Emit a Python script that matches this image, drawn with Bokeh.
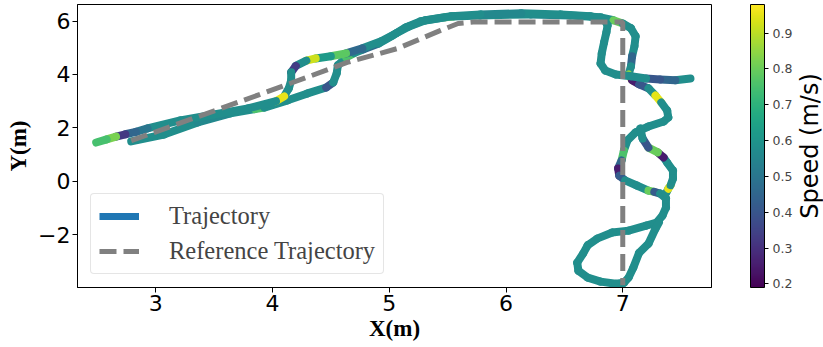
from bokeh.plotting import figure
from bokeh.layouts import row
from bokeh.models import (ColumnDataSource, Range1d, FixedTicker, ColorBar,
                          LinearColorMapper, Legend, LegendItem)
from bokeh.palettes import Viridis256
from bokeh.embed import file_html
from bokeh.resources import INLINE

# ---- data ----
# outbound pass (lower-left start -> top -> down the right -> bottom loop)
a_x = [2.79, 3.07, 3.36, 3.64, 3.85, 3.93, 4.13, 4.30, 4.46, 4.52, 4.55, 4.56, 4.63, 4.70, 4.78,
       4.91, 5.03, 5.14, 5.27, 5.48, 5.55, 5.78, 6.21, 6.55, 6.81, 6.92, 7.00, 7.07, 7.11, 7.10,
       7.08, 7.07, 7.05, 7.08, 7.14, 7.22, 7.28, 7.33, 7.38, 7.39, 7.35, 7.22, 7.11, 7.04, 7.01,
       6.99, 6.96, 6.97, 7.02, 7.12, 7.22, 7.27, 7.32, 7.37, 7.37, 7.34, 7.29, 7.20, 7.05, 6.91,
       6.78, 6.70, 6.66, 6.61, 6.62, 6.70, 6.81, 6.94, 7.01, 7.05, 7.09, 7.14, 7.22, 7.28, 7.31]
a_y = [1.49, 1.75, 2.20, 2.54, 2.70, 2.76, 3.03, 3.29, 3.51, 3.70, 4.04, 4.34, 4.64, 4.80, 4.94,
       5.16, 5.46, 5.76, 5.99, 6.14, 6.17, 6.21, 6.25, 6.21, 6.14, 6.03, 5.91, 5.73, 5.43, 5.05,
       4.68, 4.30, 4.00, 3.78, 3.63, 3.48, 3.21, 2.95, 2.65, 2.39, 2.24, 2.05, 1.83, 1.53, 1.15,
       0.78, 0.48, 0.21, 0.03, -0.16, -0.35, -0.40, -0.46, -0.65, -0.99, -1.29, -1.55, -1.66, -1.85, -1.92,
       -2.15, -2.40, -2.71, -3.05, -3.35, -3.61, -3.76, -3.84, -3.80, -3.61, -3.24, -2.68, -2.34, -1.78, -1.55]
a_speed = [0.58, 0.58, 0.56, 0.58, 0.76, 0.58, 0.58, 0.58, 0.40, 0.58, 0.58, 0.58, 0.76, 0.58, 0.46,
           0.58, 0.58, 0.58, 0.58, 0.80, 0.58, 0.58, 0.56, 0.58, 0.58, 0.80, 0.58, 0.58, 0.58, 0.58,
           0.45, 0.58, 0.85, 0.25, 0.40, 0.58, 0.95, 0.58, 0.58, 0.58, 0.58, 0.58, 0.58, 0.58, 0.76,
           0.45, 0.25, 0.42, 0.58, 0.58, 0.80, 0.42, 0.58, 0.58, 0.58, 0.58, 0.58, 0.58, 0.58, 0.58,
           0.58, 0.58, 0.58, 0.58, 0.58, 0.58, 0.58, 0.58, 0.58, 0.58, 0.58, 0.58, 0.58, 0.58, 0.58]

# return pass (right tip -> left wiggle -> top -> upper-left strand)
b_x = [7.58, 7.45, 7.32, 7.20, 7.07, 6.94, 6.85, 6.81, 6.82, 6.84, 6.86, 6.87, 6.84, 6.72,
       6.47, 6.13, 5.78, 5.53, 5.31, 5.17, 5.06, 4.93, 4.77, 4.63, 4.50, 4.37, 4.29, 4.20,
       4.16, 4.16, 4.14, 4.10, 4.03, 3.79, 3.50, 3.21, 2.93, 2.83, 2.74, 2.66, 2.58, 2.49]
b_y = [3.85, 3.78, 3.81, 3.85, 3.93, 4.00, 4.15, 4.41, 4.79, 5.20, 5.58, 5.84, 6.06, 6.18,
       6.25, 6.29, 6.25, 6.18, 6.03, 5.80, 5.54, 5.24, 4.98, 4.79, 4.68, 4.60, 4.52, 4.32,
       4.08, 3.78, 3.48, 3.18, 3.00, 2.73, 2.50, 2.28, 1.98, 1.85, 1.76, 1.67, 1.57, 1.45]
b_speed = [0.58, 0.45, 0.40, 0.58, 0.58, 0.58, 0.58, 0.58, 0.58, 0.58, 0.58, 0.58, 0.58, 0.58,
           0.58, 0.56, 0.58, 0.58, 0.58, 0.58, 0.58, 0.58, 0.46, 0.78, 0.62, 0.92, 0.58, 0.33,
           0.58, 0.58, 0.58, 0.95, 0.58, 0.58, 0.58, 0.58, 0.50, 0.45, 0.32, 0.82, 0.75, 0.58]

# connecting strand on the right side
c_x = [7.37, 7.39, 7.41, 7.43, 7.43, 7.38, 7.35, 7.30, 7.22, 7.17, 7.15]
c_y = [-0.46, -0.28, -0.15, 0.10, 0.40, 0.70, 0.89, 1.08, 1.26, 1.60, 1.98]
c_speed = [0.58, 0.95, 0.58, 0.58, 0.58, 0.58, 0.25, 0.80, 0.40, 0.58, 0.58]

# reference trajectory
ref_x = [2.79, 4.10, 4.64, 5.07, 5.44, 5.59, 5.72, 7.00, 7.00]
ref_y = [1.52, 3.58, 4.45, 4.97, 5.65, 5.91, 5.96, 5.96, -3.90]

x_ticks = [3, 4, 5, 6, 7]
y_ticks = [-2, 0, 2, 4, 6]
cb_ticks = [0.2, 0.3, 0.4, 0.5, 0.6, 0.7, 0.8, 0.9]
speed_low, speed_high = 0.19, 0.98

H = 347
TOP, BOTTOM = 4, 60

# ---- main figure (plot + colour bar) ----
p = figure(width=794, height=H, output_backend="svg", toolbar_location=None,
           x_range=Range1d(2.33, 7.76), y_range=Range1d(-3.98, 6.62),
           min_border_left=77, min_border_right=83, min_border_top=TOP, min_border_bottom=BOTTOM)
p.grid.visible = False
p.outline_line_color = "black"
p.outline_line_width = 1
p.background_fill_color = "white"

mapper = LinearColorMapper(palette=Viridis256, low=speed_low, high=speed_high)

def seg_source(xs, ys, sp):
    return ColumnDataSource(dict(x0=xs[:-1], y0=ys[:-1], x1=xs[1:], y1=ys[1:], speed=sp[:-1]))

for xs, ys, sp in [(a_x, a_y, a_speed), (b_x, b_y, b_speed), (c_x, c_y, c_speed)]:
    p.segment(x0="x0", y0="y0", x1="x1", y1="y1", source=seg_source(xs, ys, sp),
              line_color={"field": "speed", "transform": mapper},
              line_width=8, line_cap="round")

r_ref = p.line(ref_x, ref_y, line_color="#808080", line_width=5, line_dash="17 7")
# legend proxy for the coloured trajectory (no visible data)
r_traj = p.line(x=[float("nan")], y=[float("nan")], line_color="#1f77b4", line_width=7)

for ax in (p.xaxis[0], p.yaxis[0]):
    ax.major_label_text_font = "DejaVu Sans"
    ax.major_label_text_font_size = "22px"
    ax.major_label_text_color = "black"
    ax.axis_label_text_font = "Liberation Serif"
    ax.axis_label_text_font_style = "bold"
    ax.axis_label_text_font_size = "23px"
    ax.axis_label_text_color = "black"
    ax.axis_line_color = "black"
    ax.major_tick_line_color = "black"
    ax.major_tick_out = 5
    ax.major_tick_in = 0
    ax.minor_tick_line_color = None
    ax.major_label_standoff = 2
p.xaxis[0].ticker = FixedTicker(ticks=x_ticks)
p.yaxis[0].ticker = FixedTicker(ticks=y_ticks)
p.yaxis[0].major_label_overrides = {t: str(t).replace("-", "\u2212") for t in y_ticks}
p.xaxis[0].axis_label = "X(m)"
p.yaxis[0].axis_label = "Y(m)"
p.xaxis[0].axis_label_standoff = 2
p.yaxis[0].axis_label_standoff = 4

legend = Legend(items=[LegendItem(label="Trajectory", renderers=[r_traj]),
                       LegendItem(label="Reference Trajectory", renderers=[r_ref])],
                location="bottom_left", margin=13, padding=8, spacing=7,
                glyph_width=40, glyph_height=26, label_height=26, label_standoff=30,
                label_text_font="Liberation Serif", label_text_font_size="24.5px",
                border_line_color="#cccccc", border_line_width=1, border_radius=4,
                background_fill_alpha=0.8)
p.add_layout(legend)

cb = ColorBar(color_mapper=mapper, location=(673, 0), width=14, height=283, padding=0, margin=0,
              ticker=FixedTicker(ticks=cb_ticks),
              major_label_text_font="DejaVu Sans", major_label_text_font_size="12.5px",
              major_tick_line_color="black", major_tick_out=4, major_tick_in=0,
              bar_line_color="black", bar_line_width=1, label_standoff=4,
              background_fill_color=None, border_line_color=None)
p.add_layout(cb)

# ---- narrow figure carrying the colour-bar title (left-axis label reads bottom-to-top) ----
lab = figure(width=29, height=H, output_backend="svg", toolbar_location=None,
             x_range=Range1d(0, 1), y_range=Range1d(0, 1),
             min_border_left=28, min_border_right=0, min_border_top=TOP, min_border_bottom=BOTTOM)
lab.outline_line_color = None
lab.grid.visible = False
lab.xaxis.visible = False
lab.background_fill_color = None
lab.border_fill_color = None
ya = lab.yaxis[0]
ya.ticker = FixedTicker(ticks=[])
ya.axis_line_color = None
ya.major_tick_line_color = None
ya.minor_tick_line_color = None
ya.axis_label = "Speed (m/s)"
ya.axis_label_text_font = "DejaVu Sans"
ya.axis_label_text_font_size = "24px"
ya.axis_label_text_font_style = "normal"
ya.axis_label_text_color = "black"
ya.axis_label_standoff = 0

layout = row(p, lab)
open("out.html", "w").write(file_html(layout, INLINE))
